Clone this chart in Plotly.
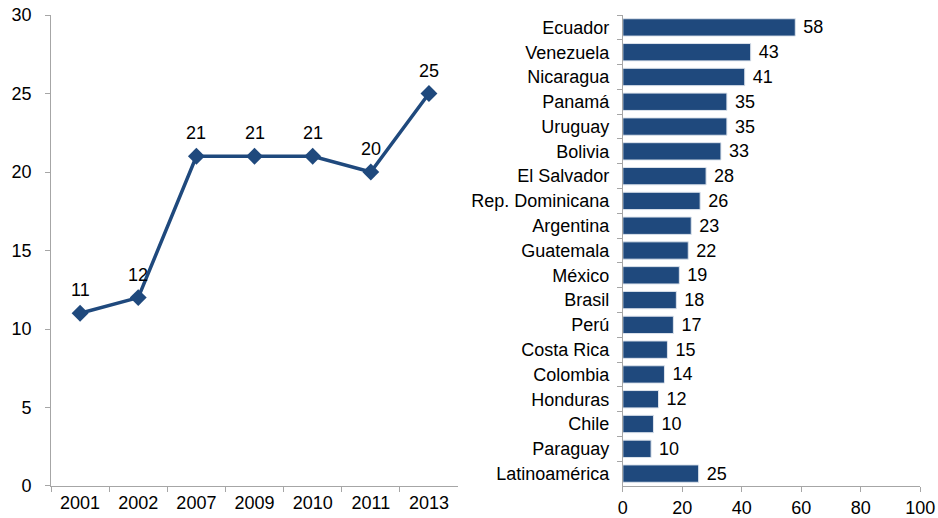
import plotly.graph_objects as go

years = ["2001", "2002", "2007", "2009", "2010", "2011", "2013"]
line_values = [11, 12, 21, 21, 21, 20, 25]

countries = ["Ecuador", "Venezuela", "Nicaragua", "Panamá", "Uruguay", "Bolivia",
             "El Salvador", "Rep. Dominicana", "Argentina", "Guatemala", "México",
             "Brasil", "Perú", "Costa Rica", "Colombia", "Honduras", "Chile",
             "Paraguay", "Latinoamérica"]
bar_values = [58, 43, 41, 35, 35, 33, 28, 26, 23, 22, 19, 18, 17, 15, 14, 12, 10, 10, 25]
bar_exact = [58, 43, 41, 35, 35, 33, 28, 26, 23, 22, 19, 18, 17, 15, 14, 12, 10.3, 9.5, 25.5]

blue = "#1F497D"
font = dict(family="Liberation Sans, Arial, sans-serif", size=18, color="#000000")
axis_color = "#A6A6A6"

fig = go.Figure()
fig.add_trace(go.Scatter(
    x=years, y=line_values, mode="lines+markers",
    line=dict(color=blue, width=3.5),
    marker=dict(symbol="diamond", size=13, color=blue),
    xaxis="x", yaxis="y", cliponaxis=False, showlegend=False,
))
for i, v in enumerate(line_values):
    fig.add_annotation(x=i, y=v, xref="x", yref="y", text=str(v), showarrow=False,
                       yshift=23, font=font)

fig.add_trace(go.Bar(
    y=countries, x=bar_exact, orientation="h",
    marker=dict(color=blue, line=dict(color="#DCE3EC", width=1)),
    width=0.7,
    text=[" " + str(v) for v in bar_values], textposition="outside",
    textfont=font, cliponaxis=False, constraintext="none",
    xaxis="x2", yaxis="y2", showlegend=False,
))

common = dict(showgrid=False, zeroline=False, showline=True, linecolor=axis_color,
              linewidth=1, ticks="outside", tickcolor=axis_color, ticklen=5,
              tickfont=font, automargin=False)

fig.update_layout(
    width=938, height=518,
    margin=dict(l=0, r=0, t=0, b=0),
    paper_bgcolor="white", plot_bgcolor="white",
    font=font,
    xaxis=dict(domain=[0.0544, 0.4883], type="category", range=[-0.5, 6.5],
               anchor="y", tickson="boundaries", **common),
    yaxis=dict(domain=[0.0618, 0.971], range=[0, 30], dtick=5, anchor="x",
               ticklabelstandoff=10, **common),
    xaxis2=dict(domain=[0.664, 0.981], range=[0, 100], dtick=20, anchor="y2", **common),
    yaxis2=dict(domain=[0.0618, 0.971], anchor="x2", autorange="reversed",
                type="category", tickson="boundaries", ticklabelstandoff=9, **common),
    bargap=0.3,
)

fig.write_html("out.html", config={"displayModeBar": False},
               post_script="document.body.style.margin='0';")
